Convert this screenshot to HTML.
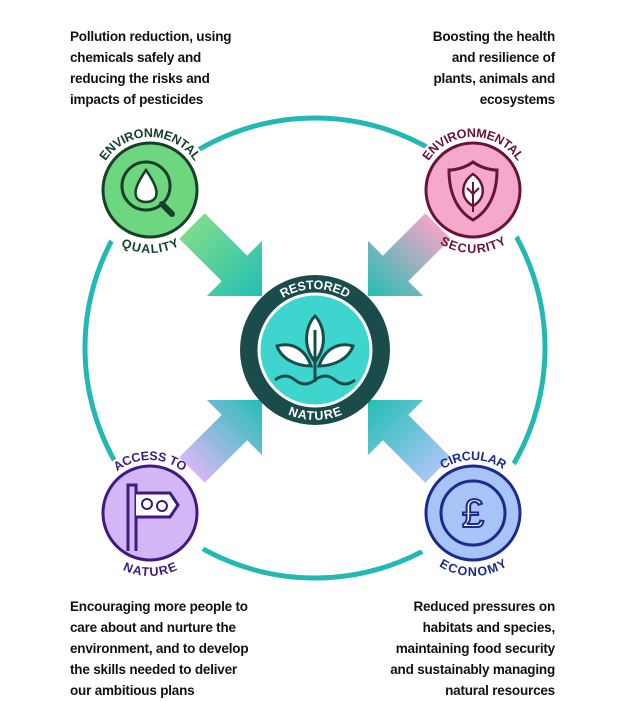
<!DOCTYPE html>
<html><head><meta charset="utf-8"><style>
html,body{margin:0;padding:0;background:#fff;}
body{width:630px;height:700px;position:relative;overflow:hidden;font-family:"Liberation Sans",sans-serif;}
.t{position:absolute;font-weight:bold;font-size:13.5px;line-height:21px;color:#111;letter-spacing:-0.2px;}
svg{position:absolute;left:0;top:0;}
.lbl{font-family:"Liberation Sans",sans-serif;font-weight:bold;font-size:12.5px;letter-spacing:-0.2px;}
</style></head><body>
<div class="t" style="left:70px;top:26px;">Pollution reduction, using<br>chemicals safely and<br>reducing the risks and<br>impacts of pesticides</div>
<div class="t" style="right:75px;top:26px;text-align:right;">Boosting the health<br>and resilience of<br>plants, animals and<br>ecosystems</div>
<div class="t" style="left:70px;top:596px;">Encouraging more people to<br>care about and nurture the<br>environment, and to develop<br>the skills needed to deliver<br>our ambitious plans</div>
<div class="t" style="right:75px;top:596px;text-align:right;">Reduced pressures on<br>habitats and species,<br>maintaining food security<br>and sustainably managing<br>natural resources</div>
<svg width="630" height="700" viewBox="0 0 630 700">
<defs>
<linearGradient id="gq" x1="0" y1="0" x2="1" y2="0"><stop offset="0" stop-color="#7cdc8c"/><stop offset="1" stop-color="#22bfb4"/></linearGradient>
<linearGradient id="gs" x1="0" y1="0" x2="1" y2="0"><stop offset="0" stop-color="#f2a6c8"/><stop offset="1" stop-color="#22bfb4"/></linearGradient>
<linearGradient id="ga" x1="0" y1="0" x2="1" y2="0"><stop offset="0" stop-color="#d6b8f6"/><stop offset="1" stop-color="#22bfb4"/></linearGradient>
<linearGradient id="gc" x1="0" y1="0" x2="1" y2="0"><stop offset="0" stop-color="#a8c6f6"/><stop offset="1" stop-color="#22bfb4"/></linearGradient>
<path id="top" d="M -53 0 A 53 53 0 0 1 53 0"/>
<path id="bot" d="M -54 0 A 54 54 0 0 0 54 0"/>
<path id="ctop" d="M -61 0 A 61 61 0 0 1 61 0"/>
<path id="cbot" d="M -61 0 A 61 61 0 0 0 61 0"/>
<polygon id="arr" points="0,-18 60,-18 60,-39 99,0 60,39 60,18 0,18"/>
</defs>
<circle cx="315" cy="348" r="230" fill="none" stroke="#22b8b4" stroke-width="5"/>
<circle cx="150" cy="190" r="64" fill="#fff"/>
<circle cx="473" cy="190" r="64" fill="#fff"/>
<circle cx="150" cy="513" r="64" fill="#fff"/>
<circle cx="473" cy="513" r="64" fill="#fff"/>
<use href="#arr" fill="url(#gq)" transform="translate(262,296) rotate(45) translate(-99,0)"/>
<use href="#arr" fill="url(#gs)" transform="translate(368,296) rotate(135) translate(-99,0)"/>
<use href="#arr" fill="url(#ga)" transform="translate(262,400) rotate(-45) translate(-99,0)"/>
<use href="#arr" fill="url(#gc)" transform="translate(368,400) rotate(-135) translate(-99,0)"/>
<g transform="translate(315,350)">
<circle r="75" fill="#1b4c4c"/>
<circle r="56" fill="#3fd5cf" stroke="#fff" stroke-width="3"/>
<g fill="#fff" stroke="#1b4c4c" stroke-width="3">
<path d="M0,12 C-14,-6 -8,-26 0,-34 C8,-26 14,-6 0,12Z"/>
<path d="M-4,16 C-20,16 -34,8 -38,-4 C-24,-8 -10,-2 -4,16Z"/>
<path d="M4,16 C20,16 34,8 38,-4 C24,-8 10,-2 4,16Z"/>
</g>
<path d="M0,-20 V32 M-40,30 q10,-8 20,0 t20,0 t20,0 t20,0" fill="none" stroke="#1b4c4c" stroke-width="3"/>
<text class="lbl" fill="#fff" font-size="15"><textPath href="#ctop" startOffset="50%" text-anchor="middle">RESTORED</textPath></text>
<text class="lbl" fill="#fff" font-size="15" dominant-baseline="hanging"><textPath href="#cbot" startOffset="50%" text-anchor="middle">NATURE</textPath></text>
</g>
<g transform="translate(150,190)">
<circle r="47" fill="#6fd680" stroke="#16402a" stroke-width="3"/>
<circle cx="-4" cy="-4" r="24" fill="none" stroke="#16402a" stroke-width="3"/>
<path d="M12,14 L22,24" stroke="#16402a" stroke-width="6" stroke-linecap="round"/>
<path d="M-4,-20 C-12,-8 -16,0 -14,6 C-12,14 4,14 6,6 C8,0 4,-8 -4,-20Z" fill="#fff" stroke="#16402a" stroke-width="2.5"/>
<text class="lbl" fill="#16402a"><textPath href="#top" startOffset="50%" text-anchor="middle">ENVIRONMENTAL</textPath></text>
<text class="lbl" fill="#16402a" dominant-baseline="hanging"><textPath href="#bot" startOffset="50%" text-anchor="middle">QUALITY</textPath></text>
</g>
<g transform="translate(473,190)">
<circle r="47" fill="#f4a9cb" stroke="#6a1238" stroke-width="3"/>
<path d="M0,-28 C8,-22 18,-20 24,-20 C24,6 14,22 0,30 C-14,22 -24,6 -24,-20 C-18,-20 -8,-22 0,-28Z" fill="none" stroke="#6a1238" stroke-width="3"/>
<path d="M0,-16 C12,-8 14,8 0,16 C-14,8 -12,-8 0,-16Z" fill="#fff" stroke="#6a1238" stroke-width="2.5"/>
<path d="M0,-8 V22 M0,4 l-6,-6 M0,4 l6,-6" stroke="#6a1238" stroke-width="2" fill="none"/>
<text class="lbl" fill="#6a1238"><textPath href="#top" startOffset="50%" text-anchor="middle">ENVIRONMENTAL</textPath></text>
<text class="lbl" fill="#6a1238" dominant-baseline="hanging"><textPath href="#bot" startOffset="50%" text-anchor="middle">SECURITY</textPath></text>
</g>
<g transform="translate(150,513)">
<circle r="47" fill="#d4b6f6" stroke="#3f1a80" stroke-width="3"/>
<path d="M-22,38 V-28 H-14 V38" fill="none" stroke="#3f1a80" stroke-width="3"/>
<path d="M-14,-20 H20 L28,-8 L20,4 H-14" fill="#fff" stroke="#3f1a80" stroke-width="3"/>
<circle cx="-3" cy="-9" r="5" fill="none" stroke="#3f1a80" stroke-width="2"/>
<circle cx="12" cy="-7" r="5" fill="none" stroke="#3f1a80" stroke-width="2"/>
<text class="lbl" fill="#3f1a80"><textPath href="#top" startOffset="50%" text-anchor="middle">ACCESS TO</textPath></text>
<text class="lbl" fill="#3f1a80" dominant-baseline="hanging"><textPath href="#bot" startOffset="50%" text-anchor="middle">NATURE</textPath></text>
</g>
<g transform="translate(473,513)">
<circle r="47" fill="#a8c4f6" stroke="#1c2a8c" stroke-width="3"/>
<circle r="32" fill="none" stroke="#1c2a8c" stroke-width="3"/>
<text x="0" y="14" text-anchor="middle" font-family="Liberation Sans" font-size="40" fill="#fff" stroke="#1c2a8c" stroke-width="2">£</text>
<text class="lbl" fill="#1c2a8c"><textPath href="#top" startOffset="50%" text-anchor="middle">CIRCULAR</textPath></text>
<text class="lbl" fill="#1c2a8c" dominant-baseline="hanging"><textPath href="#bot" startOffset="50%" text-anchor="middle">ECONOMY</textPath></text>
</g>
</svg>
</body></html>
